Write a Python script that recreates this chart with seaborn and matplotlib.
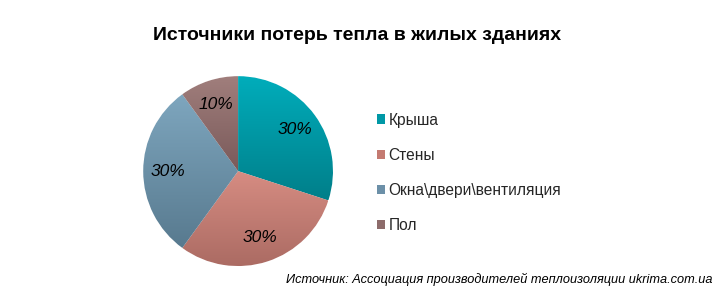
import numpy as np
import matplotlib
matplotlib.use("Agg")
import matplotlib.pyplot as plt
import seaborn as sns
from matplotlib.patches import Patch
from matplotlib.colors import to_rgb

sns.set_theme(style="white")
plt.rcParams['font.family'] = ['Liberation Sans', 'DejaVu Sans']

categories = ["Крыша", "Стены", "Окна\\двери\\вентиляция", "Пол"]
values = [30, 30, 30, 10]
labels = ["30%", "30%", "30%", "10%"]
colors_top = ["#00adbb", "#d68c82", "#7ea6be", "#a07e7c"]
colors_bot = ["#007f8a", "#ab6b63", "#587a8f", "#7a5a5a"]
colors_mid = ["#0098a6", "#c47a71", "#6c90a8", "#8d6c6b"]

fig = plt.figure(figsize=(7.27, 2.93), dpi=100)
fig.patch.set_facecolor("white")
ax = fig.add_axes([0.197, 0.092, 0.261, 0.648])

wedges, texts = ax.pie(values, colors=colors_mid, startangle=90, counterclock=False,
                       labels=labels, labeldistance=0.74,
                       textprops=dict(fontsize=12.5, style="italic", color="black",
                                      ha="center", va="center"))
ax.set_aspect("equal")
ax.set_xlim(-1, 1)
ax.set_ylim(-1, 1)

# vertical gradient fill for each wedge
for w, ct, cb in zip(wedges, colors_top, colors_bot):
    path = w.get_path()
    verts = path.vertices
    x0, x1 = verts[:, 0].min(), verts[:, 0].max()
    y0, y1 = verts[:, 1].min(), verts[:, 1].max()
    t = np.linspace(0, 1, 64)[:, None]
    top = np.array(to_rgb(ct)); bot = np.array(to_rgb(cb))
    grad = (top[None, :] * (1 - t) + bot[None, :] * t)[:, None, :]
    im = ax.imshow(grad, extent=[x0, x1, y0, y1], aspect="auto", zorder=w.get_zorder() + 0.1,
                   interpolation="bilinear")
    im.set_clip_path(w)
for tx in texts:
    tx.set_zorder(10)

fig.text(0.491, 0.878, "Источники потерь тепла в жилых зданиях", ha="center", va="center",
         fontsize=14, fontweight="bold", color="black")

handles = [Patch(facecolor=c, edgecolor="none") for c in colors_mid]
fig.legend(handles, categories, loc="center left", bbox_to_anchor=(0.499, 0.41),
           frameon=False, fontsize=11.2, handlelength=0.55, handleheight=0.55,
           handletextpad=0.2, labelspacing=1.3)

fig.text(0.980, 0.045, "Источник: Ассоциация производителей теплоизоляции ukrima.com.ua",
         ha="right", va="center", fontsize=9.2, style="italic", color="black")

fig.savefig("out.png", dpi=100, facecolor="white")
